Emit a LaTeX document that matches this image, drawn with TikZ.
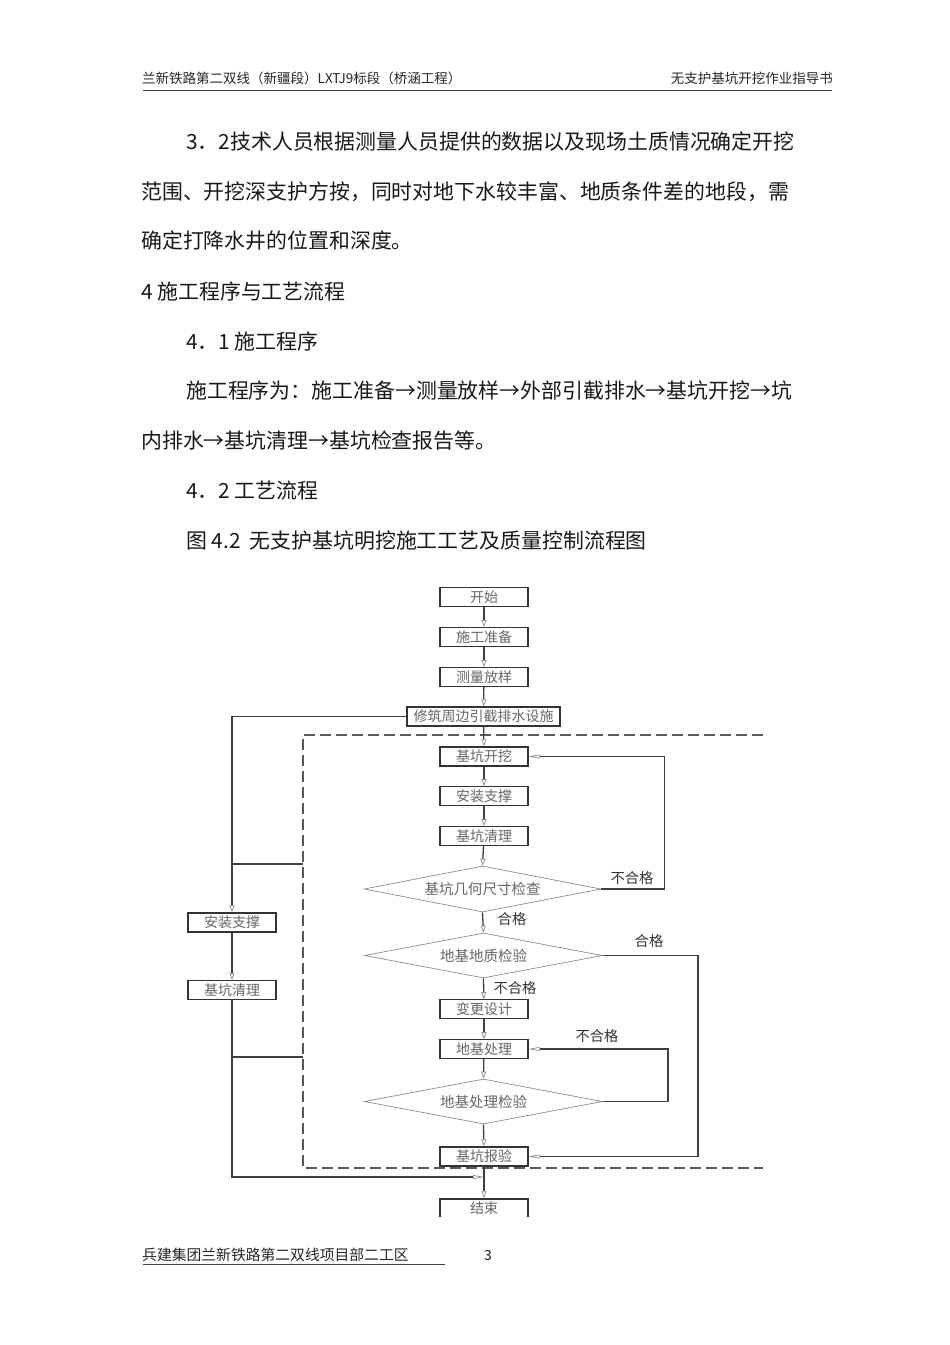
\documentclass[tikz,border=0pt]{standalone}
\usepackage{fontspec}
\setmainfont{Noto Sans CJK SC}
\usetikzlibrary{arrows.meta,shapes.geometric}
\tikzset{
  body/.style={anchor=west, inner sep=0pt, font=\fontsize{20.9}{21}\selectfont, text=black!90},
  hdr/.style={inner sep=0pt, font=\fontsize{13.5}{14}\selectfont, text=black!85},
  box/.style={draw=black!80, line width=1.4pt, minimum width=88pt, minimum height=18.5pt,
    inner sep=0pt, text=black!60, font=\fontsize{14}{14}\selectfont},
  dia/.style={diamond, draw=black!45, line width=0.7pt, inner sep=0pt, aspect=5.2,
    minimum width=238pt, minimum height=45pt, text=black!60, font=\fontsize{14.5}{15}\selectfont},
  conn/.style={draw=black!75, line width=1.3pt,
    -{Triangle[open,length=7pt,width=5pt,color=black!45,line width=0.7pt]}},
  back/.style={draw=black!75, line width=1.3pt,
    -{Triangle[open,length=11pt,width=4pt,color=black!45,line width=0.7pt]}},
  plain/.style={draw=black!75, line width=1.3pt},
  lbl/.style={inner sep=0pt, font=\fontsize{14.3}{15}\selectfont, text=black!80},
  bound/.style={draw=black!65, line width=1.3pt, dash pattern=on 11pt off 5pt}
}
\begin{document}
\begin{tikzpicture}[x=1pt,y=-1pt]
\useasboundingbox (0,0) rectangle (950,1345);
\fill[white] (0,0) rectangle (950,1345);

% header
\node[hdr, anchor=west] (hl) at (142,78) {兰新铁路第二双线（新疆段）LXTJ9标段（桥涵工程）};
\node[hdr, anchor=east] (hr) at (833,78) {无支护基坑开挖作业指导书};
\draw[black!75, line width=1pt] (143,90) -- (832,90);

% body text
\node[body] (t1) at (186,142) {3．2技术人员根据测量人员提供的数据以及现场土质情况确定开挖};
\node[body] (t2) at (141,192) {范围、开挖深支护方按，同时对地下水较丰富、地质条件差的地段，需};
\node[body] (t3) at (141,241) {确定打降水井的位置和深度。};
\node[body] (t4) at (141,292) {4 施工程序与工艺流程};
\node[body] (t5) at (186,342) {4．1 施工程序};
\node[body] (t6) at (186,391) {施工程序为：施工准备→测量放样→外部引截排水→基坑开挖→坑};
\node[body] (t7) at (141,441) {内排水→基坑清理→基坑检查报告等。};
\node[body] (t8) at (186,491) {4．2 工艺流程};
\node[body] (t9) at (186,541) {图 4.2\hspace{9pt}无支护基坑明挖施工工艺及质量控制流程图};

% dashed boundary
\draw[bound] (763,735) -- (303,735) -- (303,1168) -- (763,1168);

% main column
\node[box] (start) at (484,597) {开始};
\node[box] (prep) at (484,637) {施工准备};
\node[box] (survey) at (484,677) {测量放样};
\node[box, minimum width=153pt, minimum height=19pt] (drain) at (483.5,716.5) {修筑周边引截排水设施};
\node[box, minimum height=19pt] (dig) at (484,756.5) {基坑开挖};
\node[box] (brace) at (484,796) {安装支撑};
\node[box] (clean) at (484,836) {基坑清理};
\node[dia, minimum width=237pt, minimum height=46pt] (d1) at (482.5,889) {基坑几何尺寸检查};
\node[dia] (d2) at (483.5,955.5) {地基地质检验};
\node[box] (redesign) at (484,1009) {变更设计};
\node[box] (treat) at (484,1049) {地基处理};
\node[dia] (d3) at (483.5,1101.5) {地基处理检验};
\node[box, minimum height=19pt] (report) at (484,1156.5) {基坑报验};
\begin{scope}
\clip (0,0) rectangle (950,1216);
\node[box, minimum height=19pt] (end) at (484,1208.5) {结束};
\end{scope}

% left column
\node[box, minimum height=19pt] (lbrace) at (232,922.5) {安装支撑};
\node[box] (lclean) at (232,990) {基坑清理};

% main connectors
\draw[conn] (start) -- (prep);
\draw[conn] (prep) -- (survey);
\draw[conn] (survey) -- (drain);
\draw[conn] (drain) -- (dig);
\draw[conn] (dig) -- (brace);
\draw[conn] (brace) -- (clean);
\draw[conn] (clean) -- (d1.north);
\draw[conn] (d1.south) -- (d2.north);
\draw[conn] (d2.south) -- (redesign);
\draw[conn] (redesign) -- (treat);
\draw[conn] (treat) -- (d3.north);
\draw[conn] (d3.south) -- (report);
\draw[conn] (report) -- (end);

% loops
\draw[back] (d1.east) -- ++(63,0) |- (dig.east);
\draw[back] (d2.east) -- ++(95,0) |- (report.east);
\draw[back] (d3.east) -- ++(65,0) |- (treat.east);

% left branch
\draw[conn] (drain.west) -| (lbrace.north);
\draw[conn] (lbrace) -- (lclean);
\coordinate (j) at (484,1177);
\draw[back] (lclean.south) |- (j);
\coordinate (b1) at (303,864);
\coordinate (b2) at (303,1057);
\draw[plain] (b1 -| lbrace.north) -- (b1);
\draw[plain] (b2 -| lclean.south) -- (b2);

% labels
\node[lbl] (n1) at (632,878) {不合格};
\node[lbl] (p1) at (512,919) {合格};
\node[lbl] (p2) at (649,941) {合格};
\node[lbl] (n2) at (515,988) {不合格};
\node[lbl] (n3) at (597,1036) {不合格};

% footer
\node[inner sep=0pt, anchor=west, font=\fontsize{14.8}{15}\selectfont, text=black!85] (ft) at (142,1255) {兵建集团兰新铁路第二双线项目部二工区};
\draw[black!75, line width=0.9pt] (143,1264) -- (445,1264);
\node[inner sep=0pt, font=\fontsize{14}{14}\selectfont, text=black!85] (pg) at (488,1255) {3};
\end{tikzpicture}
\end{document}
